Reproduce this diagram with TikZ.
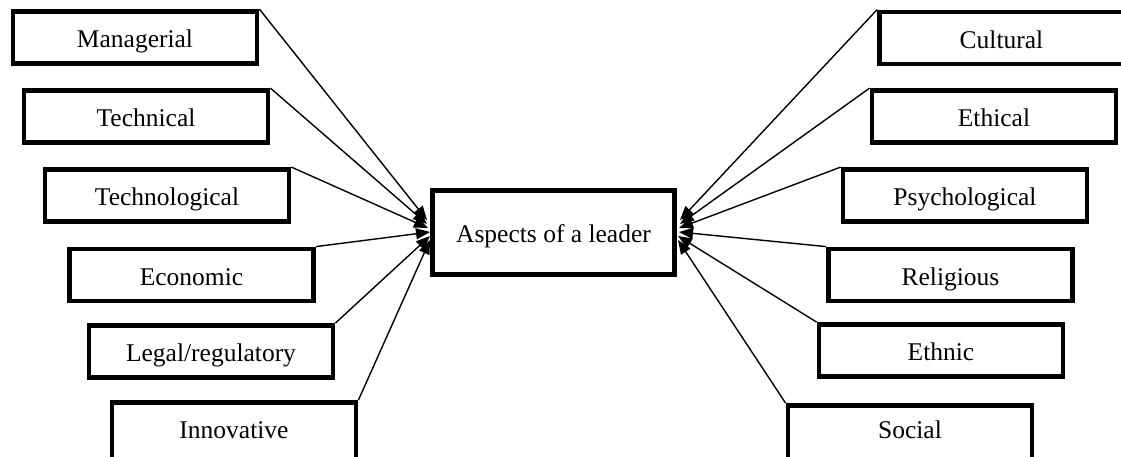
\documentclass[tikz,border=0pt]{standalone}
\usepackage{fontspec}
\setmainfont{Liberation Serif}
\usetikzlibrary{arrows.meta}
\begin{document}
\begin{tikzpicture}[x=1pt,y=-1pt,
  aspect/.style={draw, line width=4.8pt, minimum width=244pt, minimum height=52pt, inner sep=0pt,
    text height=20pt, text depth=0pt, font=\fontsize{25.5}{30}\selectfont},
  cutaspect/.style={aspect, minimum height=62pt},
  hub/.style={draw, line width=4.8pt, minimum width=242pt, minimum height=84pt, inner sep=0pt,
    text height=20pt, text depth=0pt, font=\fontsize{25.5}{30}\selectfont},
  link/.style={line width=1.4pt, -{Triangle[length=14pt,width=11pt]}}]
\useasboundingbox (0,0) rectangle (1121,456);
\node[hub] (c) at (553.5,232.5) {Aspects of a leader};
% left
\node[aspect] (m) at (135,37.5) {Managerial};
\node[aspect] (t) at (146,116.5) {Technical};
\node[aspect] (tg) at (167,195.5) {Technological};
\node[aspect] (e) at (191.5,275) {Economic};
\node[aspect] (l) at (211,351.5) {Legal/regulatory};
\node[cutaspect, text height=10pt] (i) at (234,433.5) {Innovative};
% right
\node[aspect] (cu) at (1001.5,38) {Cultural};
\node[aspect] (et) at (994,116.5) {Ethical};
\node[aspect] (ps) at (965,195.5) {Psychological};
\node[aspect] (re) at (950.5,275) {Religious};
\node[aspect] (en) at (941,350.5) {Ethnic};
\node[cutaspect, text height=4pt] (so) at (910,436.5) {Social};
% targets
\coordinate (L1) at (427,220);
\coordinate (L2) at (427,224);
\coordinate (L3) at (428,228);
\coordinate (L4) at (430,232);
\coordinate (L5) at (430,236);
\coordinate (L6) at (430,240);
\coordinate (R1) at (680,220);
\coordinate (R2) at (680,224);
\coordinate (R3) at (679,228);
\coordinate (R4) at (679,232);
\coordinate (R5) at (678,236);
\coordinate (R6) at (678,240);
\draw[link] (m.north east) -- (L1);
\draw[link] (t.north east) -- (L2);
\draw[link] (tg.north east) -- (L3);
\draw[link] (e.north east) -- (L4);
\draw[link] (l.north east) -- (L5);
\draw[link] (i.north east) -- (L6);
\draw[link] (cu.north west) -- (R1);
\draw[link] (et.north west) -- (R2);
\draw[link] (ps.north west) -- (R3);
\draw[link] (re.north west) -- (R4);
\draw[link] (en.north west) -- (R5);
\draw[link] (so.north west) -- (R6);
\end{tikzpicture}
\end{document}
